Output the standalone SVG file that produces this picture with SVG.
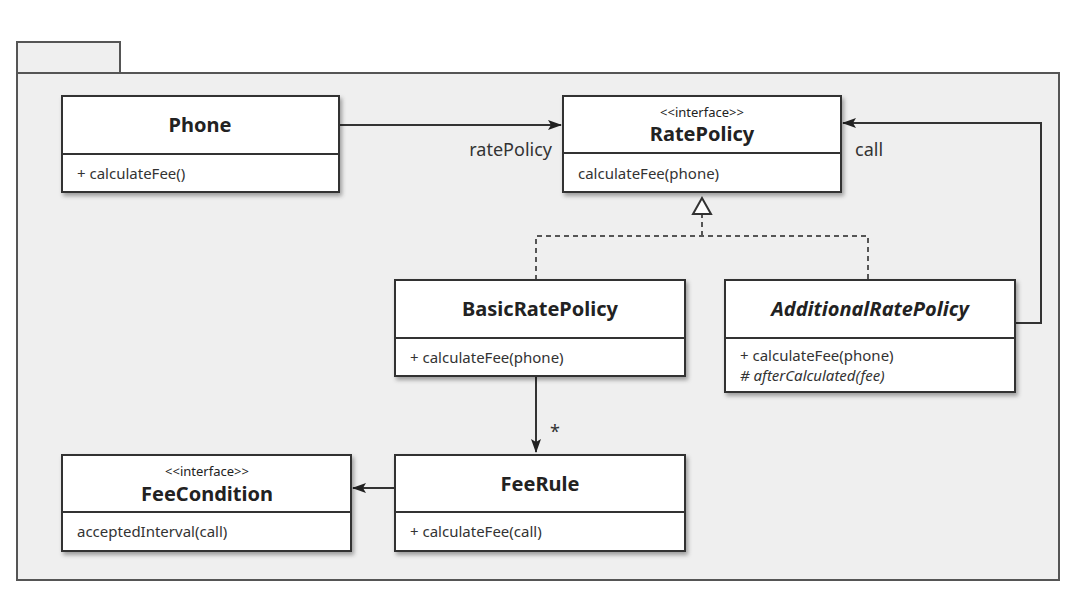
<svg xmlns="http://www.w3.org/2000/svg" width="1090" height="594" viewBox="0 0 1090 594">
<style>
.pkg{fill:#efefef;stroke:#555;stroke-width:2}
.box{fill:#fff;stroke:#333;stroke-width:2}
.div{stroke:#333;stroke-width:2}
.title{font-family:"Noto Sans","Open Sans",sans-serif;font-weight:bold;font-size:20px;fill:#222;text-anchor:middle}
.stereo{font-family:"Noto Sans","Open Sans",sans-serif;font-size:13px;fill:#222;text-anchor:middle}
.mem{font-family:"Noto Sans","Open Sans",sans-serif;font-size:15px;fill:#333}
.lbl{font-family:"Noto Sans","Open Sans",sans-serif;font-size:18px;fill:#333}
.line{fill:none;stroke:#333;stroke-width:2}
.dash{fill:none;stroke:#555;stroke-width:2;stroke-dasharray:5,4}
</style>
<defs>
<filter id="sh" x="-10%" y="-10%" width="125%" height="130%">
<feDropShadow dx="2" dy="3" stdDeviation="2" flood-color="#000" flood-opacity="0.35"/>
</filter>
<marker id="arr" viewBox="0 0 14 10" refX="13" refY="5" markerWidth="14" markerHeight="10" markerUnits="userSpaceOnUse" orient="auto">
<path d="M0,0 L14,5 L0,10 L3,5 z" fill="#222"/>
</marker>
</defs>
<g id="package">
<rect class="pkg" x="17" y="42" width="103" height="31"/>
<rect class="pkg" x="17" y="73" width="1042" height="507"/>
</g>
<g id="connectors">
<line class="line" x1="340" y1="125" x2="561" y2="125" marker-end="url(#arr)"/>
<text class="lbl" x="552" y="156" text-anchor="end">ratePolicy</text>
<polyline class="line" points="1015,323 1041,323 1041,123 843,123" marker-end="url(#arr)"/>
<text class="lbl" x="855" y="156">call</text>
<polyline class="dash" points="536,280 536,236 868,236 868,280"/>
<line class="dash" x1="702" y1="236" x2="702" y2="214"/>
<polygon points="702,198 693,214 711,214" fill="#fff" stroke="#333" stroke-width="2"/>
<line class="line" x1="536" y1="377" x2="536" y2="452" marker-end="url(#arr)"/>
<text class="lbl" x="550" y="438" font-size="14">*</text>
<line class="line" x1="395" y1="488" x2="353" y2="488" marker-end="url(#arr)"/>
</g>
<g id="Phone">
<rect class="box" x="62" y="96" width="277" height="96" filter="url(#sh)"/>
<line class="div" x1="62" y1="154" x2="339" y2="154"/>
<text class="title" x="200" y="132">Phone</text>
<text class="mem" x="77" y="179">+ calculateFee()</text>
</g>
<g id="RatePolicy">
<rect class="box" x="563" y="96" width="278" height="96" filter="url(#sh)"/>
<line class="div" x1="563" y1="153" x2="841" y2="153"/>
<text class="stereo" x="702" y="117">&lt;&lt;interface&gt;&gt;</text>
<text class="title" x="702" y="141">RatePolicy</text>
<text class="mem" x="578" y="179">calculateFee(phone)</text>
</g>
<g id="BasicRatePolicy">
<rect class="box" x="395" y="280" width="290" height="96" filter="url(#sh)"/>
<line class="div" x1="395" y1="338" x2="685" y2="338"/>
<text class="title" x="540" y="316">BasicRatePolicy</text>
<text class="mem" x="410" y="363">+ calculateFee(phone)</text>
</g>
<g id="AdditionalRatePolicy">
<rect class="box" x="725" y="280" width="290" height="112" filter="url(#sh)"/>
<line class="div" x1="725" y1="338" x2="1015" y2="338"/>
<text class="title" x="870" y="316" font-style="italic">AdditionalRatePolicy</text>
<text class="mem" x="740" y="361">+ calculateFee(phone)</text>
<text class="mem" x="740" y="381" font-style="italic"># afterCalculated(fee)</text>
</g>
<g id="FeeCondition">
<rect class="box" x="62" y="455" width="289" height="96" filter="url(#sh)"/>
<line class="div" x1="62" y1="512" x2="351" y2="512"/>
<text class="stereo" x="207" y="476">&lt;&lt;interface&gt;&gt;</text>
<text class="title" x="207" y="501">FeeCondition</text>
<text class="mem" x="77" y="537">acceptedInterval(call)</text>
</g>
<g id="FeeRule">
<rect class="box" x="395" y="455" width="290" height="96" filter="url(#sh)"/>
<line class="div" x1="395" y1="512" x2="685" y2="512"/>
<text class="title" x="540" y="491">FeeRule</text>
<text class="mem" x="410" y="537">+ calculateFee(call)</text>
</g>
</svg>
